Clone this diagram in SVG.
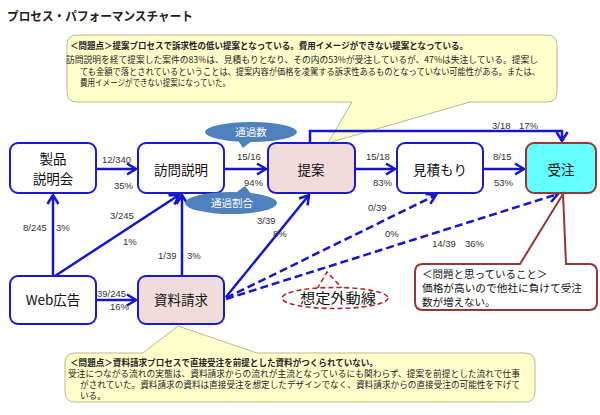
<svg xmlns="http://www.w3.org/2000/svg" width="600" height="415" viewBox="0 0 600 415">
<defs>
<marker id="arr" markerUnits="userSpaceOnUse" markerWidth="14" markerHeight="14" viewBox="0 0 14 14" refX="12" refY="7" orient="auto">
<path d="M3,1.5 L12,7 L3,12.5" fill="none" stroke="#1515cc" stroke-width="2.5" stroke-linejoin="miter"/>
</marker>
<style>
.jp{font-family:"Noto Sans CJK JP","Noto Sans",sans-serif;}
.node{fill:#fff;stroke:#1a1acc;stroke-width:2;}
.pink{fill:#f2dcdb;}
.nt{font-family:"Noto Sans CJK JP",sans-serif;font-size:13.5px;fill:#111;text-anchor:middle;}
.ln{fill:none;stroke:#1515cc;stroke-width:2.5;}
.dash{stroke-dasharray:8 4;}
.lbl{font-family:"Liberation Sans",Arial,sans-serif;font-size:9.5px;fill:#333;}
.call{fill:#ffffcc;stroke:#bdb88c;stroke-width:1;}
.ct{font-family:"Noto Sans CJK JP",sans-serif;font-size:8.6px;fill:#222;}
.bub{fill:#4f81bd;}
.bt{font-family:"Noto Sans CJK JP",sans-serif;font-size:10.5px;fill:#fff;text-anchor:middle;}
.rt{font-family:"Noto Sans CJK JP",sans-serif;font-size:10.5px;fill:#111;}
</style>
</defs>
<rect width="600" height="415" fill="#fff"/>
<text class="jp" x="7" y="21" font-size="12.5" font-weight="bold" fill="#222" textLength="186" lengthAdjust="spacingAndGlyphs">プロセス・パフォーマンスチャート</text>

<g id="callout-top">
<path class="call" d="M77,35 H547 Q557,35 557,45 V92 Q557,102 547,102 H470 L328,143 L352,102 H77 Q67,102 67,92 V45 Q67,35 77,35 Z"/>
<text class="ct" x="70" y="49" font-weight="bold" textLength="398" lengthAdjust="spacingAndGlyphs">＜問題点＞提案プロセスで訴求性の低い提案となっている。費用イメージができない提案となっている。</text>
<text class="ct" x="66" y="63" textLength="472" lengthAdjust="spacingAndGlyphs">訪問説明を経て提案した案件の83%は、見積もりとなり、その内の53%が受注しているが、47%は失注している。提案し</text>
<text class="ct" x="80" y="75" textLength="460" lengthAdjust="spacingAndGlyphs">ても金額で落とされているということは、提案内容が価格を凌駕する訴求性あるものとなっていない可能性がある。または、</text>
<text class="ct" x="80" y="86" textLength="150" lengthAdjust="spacingAndGlyphs">費用イメージができない提案になっていた。</text>
</g>

<g id="callout-bottom">
<path class="call" d="M75,353 H143 L178,326 L257,353 H525 Q535,353 535,363 V392 Q535,402 525,402 H75 Q65,402 65,392 V363 Q65,353 75,353 Z"/>
<text class="ct" x="70" y="366" font-weight="bold" textLength="308" lengthAdjust="spacingAndGlyphs">＜問題点＞資料請求プロセスで直接受注を前提とした資料がつくられていない。</text>
<text class="ct" x="68" y="377" textLength="452" lengthAdjust="spacingAndGlyphs">受注につながる流れの実態は、資料請求からの流れが主流となっているにも関わらず、提案を前提とした流れで仕事</text>
<text class="ct" x="80" y="388" textLength="440" lengthAdjust="spacingAndGlyphs">がされていた。資料請求の資料は直接受注を想定したデザインでなく、資料請求からの直接受注の可能性を下げて</text>
<text class="ct" x="80" y="399">いる。</text>
</g>

<g id="connectors">
<path class="ln" d="M96,169 H136" marker-end="url(#arr)"/>
<path class="ln" d="M224,169 H266" marker-end="url(#arr)"/>
<path class="ln" d="M355,169 H395" marker-end="url(#arr)"/>
<path class="ln" d="M483,169 H524" marker-end="url(#arr)"/>
<path class="ln" d="M310,143 V131 H562 V141" marker-end="url(#arr)"/>
<path class="ln" d="M53,276 V195" marker-end="url(#arr)"/>
<path class="ln" d="M55,276 L179,195" marker-end="url(#arr)"/>
<path class="ln" d="M182,276 V195" marker-end="url(#arr)"/>
<path class="ln" d="M96,300 H136" marker-end="url(#arr)"/>
<path class="ln" d="M226,297 L309,195" marker-end="url(#arr)"/>
<path class="ln dash" d="M226,298 L436,195" marker-end="url(#arr)"/>
<path class="ln dash" d="M226,299 L558,194" marker-end="url(#arr)"/>
</g>

<g id="n-seihin"><rect class="node" x="10" y="143" width="86" height="50" rx="8"/><text class="nt" x="53" y="164" font-size="13">製品</text><text class="nt" x="53" y="184" font-size="13">説明会</text></g>
<g id="n-houmon"><rect class="node" x="138" y="143" width="86" height="50" rx="8"/><text class="nt" x="181" y="175">訪問説明</text></g>
<g id="n-teian"><rect class="node pink" x="268" y="143" width="87" height="50" rx="8"/><text class="nt" x="311" y="175">提案</text></g>
<g id="n-mitsumori"><rect class="node" x="397" y="143" width="86" height="50" rx="8"/><text class="nt" x="440" y="175">見積もり</text></g>
<g id="n-juchu"><rect x="526" y="143" width="70" height="50" rx="8" fill="#66ffff" stroke="#953735" stroke-width="2"/><text class="nt" x="561" y="175">受注</text></g>
<g id="n-web"><rect class="node" x="10" y="276" width="86" height="48" rx="8"/><text class="nt" x="53" y="305">Web広告</text></g>
<g id="n-shiryo"><rect class="node pink" x="138" y="276" width="86" height="48" rx="8"/><text class="nt" x="181" y="305">資料請求</text></g>

<g id="labels">
<text class="lbl" x="102" y="163">12/340</text>
<text class="lbl" x="114" y="189">35%</text>
<text class="lbl" x="237" y="160">15/16</text>
<text class="lbl" x="244" y="186">94%</text>
<text class="lbl" x="366" y="160">15/18</text>
<text class="lbl" x="373" y="186">83%</text>
<text class="lbl" x="493" y="160">8/15</text>
<text class="lbl" x="494" y="186">53%</text>
<text class="lbl" x="492" y="129">3/18</text>
<text class="lbl" x="519" y="129">17%</text>
<text class="lbl" x="23" y="231">8/245</text>
<text class="lbl" x="56" y="231">3%</text>
<text class="lbl" x="110" y="219">3/245</text>
<text class="lbl" x="123" y="245">1%</text>
<text class="lbl" x="158" y="259">1/39</text>
<text class="lbl" x="187" y="259">3%</text>
<text class="lbl" x="97" y="297">39/245</text>
<text class="lbl" x="110" y="310">16%</text>
<text class="lbl" x="257" y="224">3/39</text>
<text class="lbl" x="273" y="237">8%</text>
<text class="lbl" x="368" y="211">0/39</text>
<text class="lbl" x="385" y="237">0%</text>
<text class="lbl" x="432" y="247">14/39</text>
<text class="lbl" x="465" y="247">36%</text>
</g>

<g id="bubble-count">
<ellipse class="bub" cx="251" cy="132" rx="46" ry="10"/>
<path class="bub" d="M237,139 L243,148 L253,140 Z"/>
<text class="bt" x="251" y="136">通過数</text>
</g>
<g id="bubble-rate">
<ellipse class="bub" cx="231" cy="203" rx="46" ry="11"/>
<path class="bub" d="M234,194 L245,186 L252,195 Z"/>
<text class="bt" x="232" y="207">通過割合</text>
</g>

<g id="callout-red">
<path d="M423,264 H520 L563,194 L566,264 H589 Q597,264 597,272 V302 Q597,310 589,310 H423 Q415,310 415,302 V272 Q415,264 423,264 Z" fill="#fff" stroke="#953735" stroke-width="2"/>
<text class="rt" x="422" y="278">＜問題と思っていること＞</text>
<text class="rt" x="422" y="292" textLength="160" lengthAdjust="spacingAndGlyphs">価格が高いので他社に負けて受注</text>
<text class="rt" x="422" y="306">数が増えない。</text>
</g>

<g id="unexpected">
<path d="M317,289 L327,272 L342,288" fill="#fff" stroke="#b02a2a" stroke-width="1.6" stroke-dasharray="5 3"/>
<ellipse cx="335" cy="298" rx="53" ry="10.5" fill="#fff" stroke="#b02a2a" stroke-width="1.6" stroke-dasharray="5 3"/>
<text class="jp" x="338" y="303" font-size="13.5" fill="#111" text-anchor="middle" textLength="76" lengthAdjust="spacingAndGlyphs">想定外動線</text>
</g>
</svg>
